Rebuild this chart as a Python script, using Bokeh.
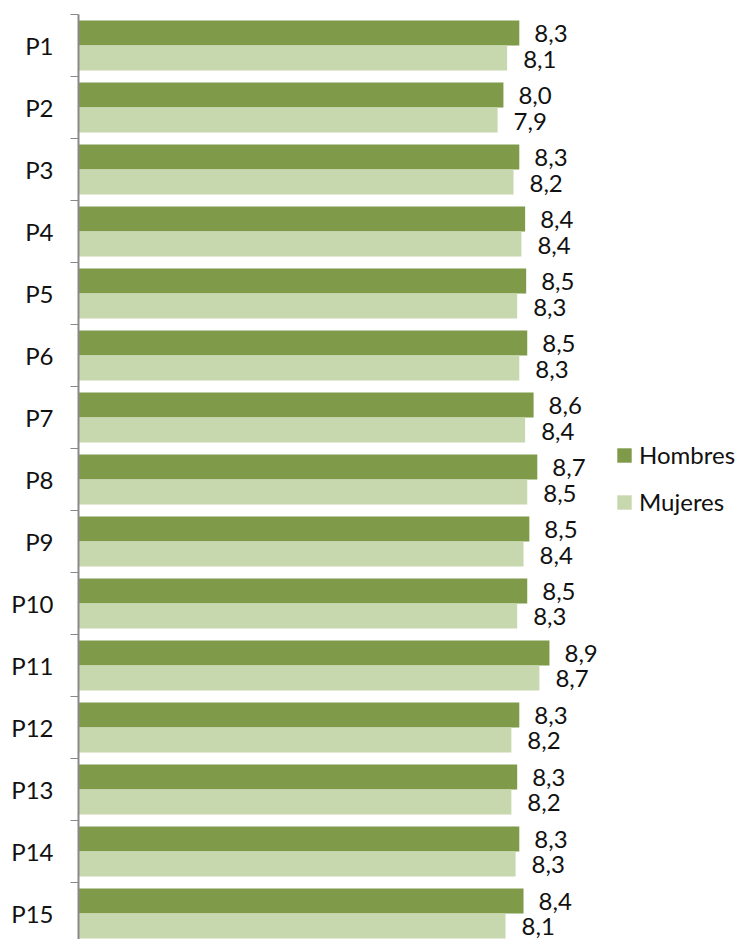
from bokeh.plotting import figure
from bokeh.models import (ColumnDataSource, Range1d, LinearAxis,
                          FixedTicker, Legend, LegendItem)
from bokeh.transform import dodge
from bokeh.core.properties import value
from bokeh.embed import file_html
from bokeh.resources import INLINE

categories = ["P1", "P2", "P3", "P4", "P5", "P6", "P7", "P8", "P9", "P10",
              "P11", "P12", "P13", "P14", "P15"]
hombres = [8.33, 8.03, 8.33, 8.44, 8.46, 8.48, 8.60, 8.67, 8.52, 8.48,
           8.90, 8.33, 8.29, 8.33, 8.41]
mujeres = [8.10, 7.92, 8.22, 8.37, 8.29, 8.33, 8.44, 8.48, 8.41, 8.29,
           8.71, 8.18, 8.18, 8.26, 8.07]
series_names = ["Hombres", "Mujeres"]

DARK = "#7F9A48"
LIGHT = "#C7D8AE"
FONT = "Lato"
FS = "24px"
TXT = "#111111"


def fmt(v):
    return f"{v:.1f}".replace(".", ",")


n = len(categories)
# band centre of each category, first category at the top
ypos = [n - i - 0.5 for i in range(n)]

src = ColumnDataSource(data=dict(
    cat=categories,
    y=ypos,
    h=hombres,
    m=mujeres,
    hl=[fmt(v) for v in hombres],
    ml=[fmt(v) for v in mujeres],
))

# the chart runs slightly past the bottom edge of the picture
p = figure(width=740, height=939,
           y_range=Range1d(0.08, n),
           x_range=Range1d(0, 12.51),
           x_axis_location=None, y_axis_location=None,
           toolbar_location=None, output_backend="svg",
           min_border_left=78, min_border_right=0,
           min_border_top=14, min_border_bottom=0)
p.outline_line_color = None
p.grid.visible = False
p.background_fill_color = "white"
p.border_fill_color = "white"

OFF = 0.202
BH = 0.404

rh = p.hbar(y=dodge("y", OFF), right="h", left=0, height=BH,
            source=src, fill_color=DARK, line_color=None)
rm = p.hbar(y=dodge("y", -OFF), right="m", left=0, height=BH,
            source=src, fill_color=LIGHT, line_color=None)

p.text(x="h", y=dodge("y", OFF), text="hl", source=src,
       x_offset=15, y_offset=1, text_baseline="middle", text_align="left",
       text_font=value(FONT), text_font_size=FS, text_color=TXT)
p.text(x="m", y=dodge("y", -OFF), text="ml", source=src,
       x_offset=16, y_offset=1, text_baseline="middle", text_align="left",
       text_font=value(FONT), text_font_size=FS, text_color=TXT)

# category axis: labels at band centres, ticks at band boundaries
ax = LinearAxis(ticker=FixedTicker(ticks=ypos, minor_ticks=list(range(n + 1))),
                major_label_overrides={y: c for y, c in zip(ypos, categories)})
ax.major_tick_out = 0
ax.major_tick_in = 0
ax.major_tick_line_color = None
ax.minor_tick_out = 8
ax.minor_tick_in = 0
ax.minor_tick_line_color = "#898989"
ax.minor_tick_line_width = 1
ax.axis_line_color = "#898989"
ax.axis_line_width = 2
ax.major_label_standoff = 17
ax.major_label_text_font = FONT
ax.major_label_text_font_size = FS
ax.major_label_text_color = TXT
p.add_layout(ax, "left")

legend = Legend(items=[LegendItem(label=series_names[0], renderers=[rh]),
                       LegendItem(label=series_names[1], renderers=[rm])],
                location=(537, 423))
legend.glyph_width = 18
legend.glyph_height = 18
legend.label_standoff = 6
legend.label_text_font = FONT
legend.label_text_font_size = FS
legend.label_text_color = TXT
legend.spacing = 18
legend.padding = 0
legend.margin = 0
legend.border_line_color = None
legend.background_fill_alpha = 0
p.add_layout(legend)

open("out.html", "w").write(file_html(p, INLINE))
